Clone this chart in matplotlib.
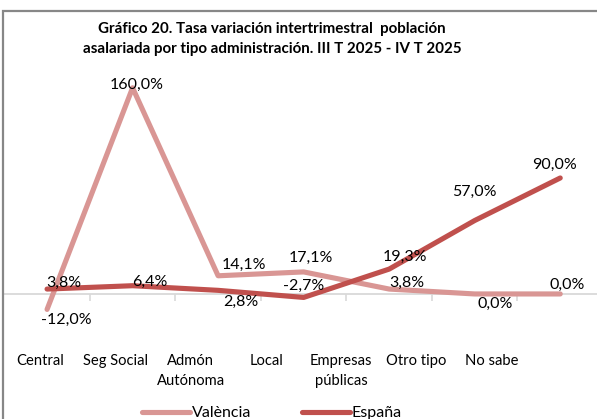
import matplotlib
matplotlib.use("Agg")
import matplotlib.pyplot as plt
from matplotlib.patches import Rectangle

categories = ["Central", "Seg Social", "Admón\nAutónoma", "Local",
              "Empresas\npúblicas", "Otro tipo", "No sabe"]
valencia = [-12.0, 160.0, 14.1, 17.1, 3.8, 0.0, 0.0]
espana = [3.8, 6.4, 2.8, -2.7, 19.3, 57.0, 90.0]
series_names = ["València", "España"]
title = "Gráfico 20. Tasa variación intertrimestral  población\nasalariada por tipo administración. III T 2025 - IV T 2025"

# label offsets in pixels (layout)
val_off = [(19, -10), (4, 3), (26, 11), (7, 14), (18, 6), (20, -10), (7, 9)]
esp_off = [(17, 6), (17, 4), (23, -12), (0, 12), (16, 12), (0, 29), (-6, 13)]

FONT = "Lato"
plt.rcParams['font.family'] = [FONT, 'DejaVu Sans']
W, H = 597, 419
fig = plt.figure(figsize=(W / 100, H / 100), dpi=100)

def fx(px):
    return px / W

def fy(py):
    return 1 - py / H

# chart border
fig.patches.append(Rectangle((fx(3), fy(H + 20)), fx(W + 20), fy(11) - fy(H + 20),
                             transform=fig.transFigure, fill=False,
                             edgecolor="#878787", linewidth=1.6))

ax_left, ax_right = 4.3, 603.0
ax_top, ax_bot = 62.0, 345.5
ax = fig.add_axes([fx(ax_left), fy(ax_bot), fx(ax_right - ax_left), fy(ax_top) - fy(ax_bot)])
ax.set_xlim(-0.5, len(categories) - 0.5)
ax.set_ylim(-40, 180)
for s in ax.spines.values():
    s.set_visible(False)
ax.set_yticks([])

xs = list(range(len(categories)))
c_val = "#D99694"
c_esp = "#C0504D"

ax.axhline(0, color="#D9D9D9", linewidth=1.3, zorder=1)
ax.plot(xs, valencia, color=c_val, linewidth=3.7, solid_capstyle="round",
        solid_joinstyle="round", label=series_names[0], zorder=3)
ax.plot(xs, espana, color=c_esp, linewidth=3.7, solid_capstyle="round",
        solid_joinstyle="round", label=series_names[1], zorder=3)

def fmt(v):
    return f"{v:.1f}".replace(".", ",") + "%"

LBL = 11.5
for i, v in enumerate(valencia):
    dx, dy = val_off[i]
    ax.annotate(fmt(v), (xs[i], v), xytext=(dx * 0.72, dy * 0.72), textcoords="offset points",
                ha="center", va="center", fontsize=LBL, color="#000000", zorder=5)
for i, v in enumerate(espana):
    dx, dy = esp_off[i]
    ax.annotate(fmt(v), (xs[i], v), xytext=(dx * 0.72, dy * 0.72), textcoords="offset points",
                ha="center", va="center", fontsize=LBL, color="#000000", zorder=5)

# tick marks on zero line at category boundaries
sec = ax.secondary_xaxis(40 / 220)
sec.spines["bottom"].set_visible(False)
sec.set_xticks([i + 0.5 for i in range(len(categories) - 1)])
sec.set_xticklabels([])
sec.tick_params(axis="x", length=5, width=1.2, color="#D9D9D9", direction="out")

# category labels
label_pos = [-0.08 + i * 0.88 for i in range(len(categories))]
ax.set_xticks(label_pos)
ax.set_xticklabels(categories, fontsize=10.6, linespacing=1.6, va="top")
ax.tick_params(axis="x", length=0, pad=6)

# title
fig.text(fx(272), fy(39), title, ha="center", va="center", fontsize=10.9,
         fontweight="bold", linespacing=1.55)

# legend
leg = fig.legend(loc="center", bbox_to_anchor=(fx(272), fy(413)), ncol=2, frameon=False,
                 fontsize=11.5, handlelength=3.0, handletextpad=0.1, columnspacing=3.2,
                 borderaxespad=0)

fig.savefig("out.png", dpi=100)
